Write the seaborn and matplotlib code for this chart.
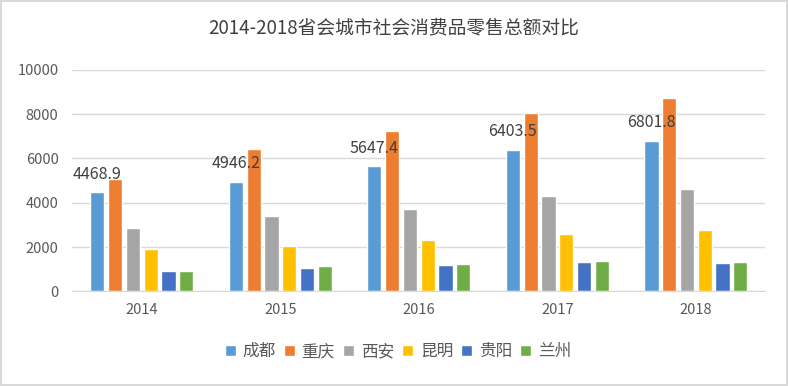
import numpy as np
import pandas as pd
import matplotlib
matplotlib.use('Agg')
import matplotlib.pyplot as plt
import seaborn as sns

years = ['2014', '2015', '2016', '2017', '2018']
cities = ['成都', '重庆', '西安', '昆明', '贵阳', '兰州']
chengdu = [4468.9, 4946.2, 5647.4, 6403.5, 6801.8]
chongqing = [5070, 6440, 7250, 8060, 8740]
xian = [2860, 3410, 3730, 4320, 4630]
kunming = [1920, 2050, 2330, 2600, 2780]
guiyang = [900, 1070, 1200, 1340, 1290]
lanzhou = [930, 1160, 1250, 1380, 1340]
colors = ['#5B9BD5', '#ED7D31', '#A5A5A5', '#FFC000', '#4472C4', '#70AD47']

series = [chengdu, chongqing, xian, kunming, guiyang, lanzhou]
rows = []
for city, vals in zip(cities, series):
    for y, v in zip(years, vals):
        rows.append({'year': y, 'city': city, 'value': v})
df = pd.DataFrame(rows)

sns.set_style('white')
plt.rcParams['font.family'] = ['Noto Sans CJK SC', 'DejaVu Sans']

fig = plt.figure(figsize=(7.88, 3.86), dpi=100)
fig.patch.set_edgecolor('#D9D9D9')
fig.patch.set_linewidth(1.5)
ax = fig.add_axes([0.092, 0.245, 0.879, 0.574])

sns.barplot(data=df, x='year', y='value', hue='city', palette=colors,
            width=0.77, gap=0.2, ax=ax, legend=True, saturation=1)

ax.set_ylim(0, 10000)
ax.set_yticks(np.arange(0, 10001, 2000))
ax.yaxis.grid(True, color='#D9D9D9', linewidth=1)
ax.set_axisbelow(True)
ax.set_xlabel('')
ax.set_ylabel('')
sns.despine(ax=ax, left=True, top=True, right=True)
ax.spines['bottom'].set_color('#D9D9D9')
ax.tick_params(axis='both', length=0, labelsize=10.5, colors='#595959')
ax.tick_params(axis='x', pad=8)
ax.tick_params(axis='y', pad=10)

# labels for 成都 only
cont = ax.containers[0]
ax.bar_label(cont, labels=[f'{v:.1f}' for v in chengdu], padding=7,
             fontsize=11.5, color='#404040')

ax.legend(loc='upper center', bbox_to_anchor=(0.47, -0.165), ncol=6,
          frameon=False, fontsize=12, handlelength=0.65, handleheight=0.65,
          handletextpad=0.4, columnspacing=0.5, labelcolor='#595959')

fig.suptitle('2014-2018省会城市社会消费品零售总额对比', y=0.955,
             fontsize=13.5, color='#404040')

fig.savefig('out.png', dpi=100)
